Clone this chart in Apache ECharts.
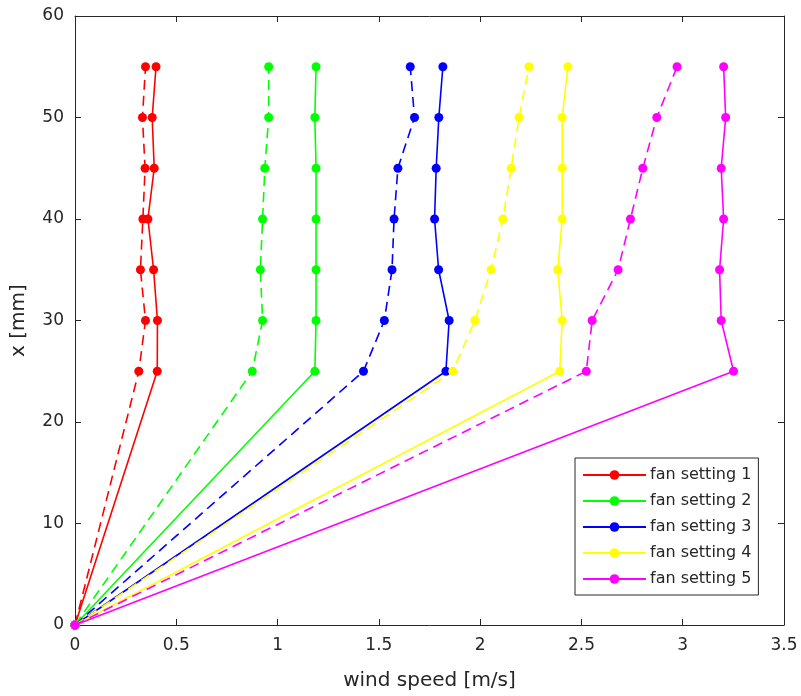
<!DOCTYPE html>
<html>
<head>
<meta charset="utf-8">
<script src="https://cdn.jsdelivr.net/npm/echarts@6/dist/echarts.min.js"></script>
<style>html,body{margin:0;padding:0;background:#fff}#c{width:801px;height:696px}</style>
</head>
<body>
<div id="c"></div>
<script>
// heights (mm)
const heights = [0, 25, 30, 35, 40, 45, 50, 55];
// wind speed (m/s), solid lines
const solid1 = [0, 0.406, 0.407, 0.388, 0.360, 0.391, 0.381, 0.400];
const solid2 = [0, 1.184, 1.190, 1.190, 1.190, 1.190, 1.184, 1.190];
const solid3 = [0, 1.831, 1.847, 1.795, 1.775, 1.783, 1.796, 1.816];
const solid4 = [0, 2.393, 2.405, 2.383, 2.405, 2.405, 2.405, 2.433];
const solid5 = [0, 3.251, 3.190, 3.182, 3.202, 3.190, 3.212, 3.202];
// wind speed (m/s), dashed lines
const dashed1 = [0, 0.315, 0.348, 0.323, 0.335, 0.346, 0.333, 0.348];
const dashed2 = [0, 0.875, 0.926, 0.915, 0.926, 0.937, 0.956, 0.956];
const dashed3 = [0, 1.424, 1.527, 1.565, 1.575, 1.594, 1.676, 1.655];
const dashed4 = [0, 1.865, 1.974, 2.054, 2.112, 2.153, 2.192, 2.241];
const dashed5 = [0, 2.524, 2.553, 2.681, 2.742, 2.803, 2.872, 2.972];
const names = ['fan setting 1', 'fan setting 2', 'fan setting 3', 'fan setting 4', 'fan setting 5'];
const colors = ['#ff0000', '#00ff00', '#0000ff', '#ffff00', '#ff00ff'];
const xTicks = [0, 0.5, 1, 1.5, 2, 2.5, 3, 3.5];
const yTicks = [0, 10, 20, 30, 40, 50, 60];

const solids = [solid1, solid2, solid3, solid4, solid5];
const dasheds = [dashed1, dashed2, dashed3, dashed4, dashed5];
const pairs = arr => arr.map((v, i) => [v, heights[i]]);

const FONT = 'DejaVu Sans';
const axisCol = '#262626';
const series = [];
solids.forEach((s, i) => series.push({
  name: names[i], type: 'line', data: pairs(s), color: colors[i],
  symbol: 'circle', symbolSize: 9, showSymbol: true,
  lineStyle: { width: 1.6, color: colors[i], type: 'solid' },
  itemStyle: { color: colors[i] }, animation: false
}));
dasheds.forEach((s, i) => series.push({
  name: names[i] + ' dashed', type: 'line', data: pairs(s), color: colors[i],
  symbol: 'circle', symbolSize: 9, showSymbol: true,
  lineStyle: { width: 1.6, color: colors[i], type: [10, 6] },
  itemStyle: { color: colors[i] }, animation: false
}));

const baseX = {
  type: 'value', min: xTicks[0], max: xTicks[xTicks.length - 1], interval: 0.5,
  splitLine: { show: false },
  axisLine: { show: true, onZero: false, lineStyle: { color: axisCol, width: 1 } },
  axisTick: { show: true, inside: true, length: 6, lineStyle: { color: axisCol } }
};
const baseY = {
  type: 'value', min: yTicks[0], max: yTicks[yTicks.length - 1], interval: 10,
  splitLine: { show: false },
  axisLine: { show: true, onZero: false, lineStyle: { color: axisCol, width: 1 } },
  axisTick: { show: true, inside: true, length: 6, lineStyle: { color: axisCol } }
};

const chart = echarts.init(document.getElementById('c'), null, { renderer: 'canvas' });
chart.setOption({
  backgroundColor: '#ffffff',
  animation: false,
  grid: { left: 75, right: 17, top: 16, bottom: 70, containLabel: false },
  xAxis: [
    Object.assign({}, baseX, {
      position: 'bottom', name: 'wind speed [m/s]', nameLocation: 'middle', nameGap: 46,
      nameTextStyle: { fontFamily: FONT, fontSize: 20, color: axisCol },
      axisLabel: { fontFamily: FONT, fontSize: 17, color: axisCol, margin: 12,
        formatter: v => String(v) }
    }),
    Object.assign({}, baseX, { position: 'top', axisLabel: { show: false } })
  ],
  yAxis: [
    Object.assign({}, baseY, {
      position: 'left', name: 'x [mm]', nameLocation: 'middle', nameGap: 46,
      nameTextStyle: { fontFamily: FONT, fontSize: 20, color: axisCol },
      axisLabel: { fontFamily: FONT, fontSize: 17, color: axisCol, margin: 11 }
    }),
    Object.assign({}, baseY, { position: 'right', axisLabel: { show: false } })
  ],
  legend: {
    data: names, orient: 'vertical', left: 575, top: 458,
    padding: [9, 7, 8, 7], itemGap: 10, itemWidth: 63, itemHeight: 12,
    backgroundColor: '#ffffff', borderColor: axisCol, borderWidth: 1, borderRadius: 0,
    textStyle: { fontFamily: FONT, fontSize: 16, lineHeight: 16, color: axisCol, padding: [0, 0, 0, -1] },
    itemStyle: { borderWidth: 0 }
  },
  series: series
});
</script>
</body>
</html>
